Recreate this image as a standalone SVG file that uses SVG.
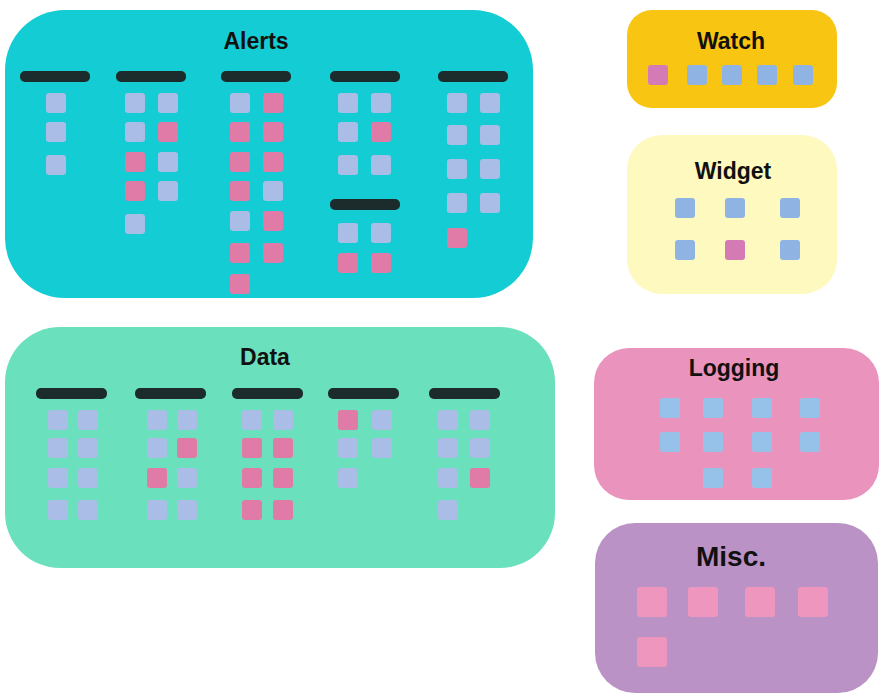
<svg xmlns="http://www.w3.org/2000/svg" width="885" height="700" viewBox="0 0 885 700">
<style>
.title{font-family:"Liberation Sans",Arial,sans-serif;font-weight:bold;font-size:23px;fill:#111;text-anchor:middle}
.bar{fill:#1c2b2b}
.b{fill:#a9bde6}
.p{fill:#e07aa6}
.wb{fill:#8fb4e4}
.wp{fill:#d47bb6}
.lb{fill:#96c2ea}
.mp{fill:#ee96bd}
</style>
<defs>
<rect id="n" x="-10" y="-10" width="20" height="20" rx="3"/>
<rect id="m" x="-15" y="-15" width="30" height="30" rx="3"/>
</defs>
<g id="alerts">
<rect x="5" y="10" width="528" height="288" rx="60" fill="#14ccd4"/>
<text class="title" x="256" y="49">Alerts</text>
<g class="bar">
<rect x="20" y="71" width="70" height="11" rx="5"/>
<rect x="116" y="71" width="70" height="11" rx="5"/>
<rect x="221" y="71" width="70" height="11" rx="5"/>
<rect x="330" y="71" width="70" height="11" rx="5"/>
<rect x="438" y="71" width="70" height="11" rx="5"/>
<rect x="330" y="199" width="70" height="11" rx="5"/>
</g>
<g class="b">
<use href="#n" x="56" y="103"/><use href="#n" x="56" y="132"/><use href="#n" x="56" y="165"/>
<use href="#n" x="135" y="103"/><use href="#n" x="135" y="132"/><use href="#n" x="135" y="224"/>
<use href="#n" x="168" y="103"/><use href="#n" x="168" y="162"/><use href="#n" x="168" y="191"/>
<use href="#n" x="240" y="103"/><use href="#n" x="240" y="221"/><use href="#n" x="273" y="191"/>
<use href="#n" x="348" y="103"/><use href="#n" x="348" y="132"/><use href="#n" x="348" y="165"/>
<use href="#n" x="381" y="103"/><use href="#n" x="381" y="165"/>
<use href="#n" x="348" y="233"/><use href="#n" x="381" y="233"/>
<use href="#n" x="457" y="103"/><use href="#n" x="457" y="135"/><use href="#n" x="457" y="169"/><use href="#n" x="457" y="203"/>
<use href="#n" x="490" y="103"/><use href="#n" x="490" y="135"/><use href="#n" x="490" y="169"/><use href="#n" x="490" y="203"/>
</g>
<g class="p">
<use href="#n" x="135" y="162"/><use href="#n" x="135" y="191"/><use href="#n" x="168" y="132"/>
<use href="#n" x="240" y="132"/><use href="#n" x="240" y="162"/><use href="#n" x="240" y="191"/><use href="#n" x="240" y="253"/><use href="#n" x="240" y="284"/>
<use href="#n" x="273" y="103"/><use href="#n" x="273" y="132"/><use href="#n" x="273" y="162"/><use href="#n" x="273" y="221"/><use href="#n" x="273" y="253"/>
<use href="#n" x="381" y="132"/>
<use href="#n" x="348" y="263"/><use href="#n" x="381" y="263"/>
<use href="#n" x="457" y="238"/>
</g>
</g>
<g id="watch">
<rect x="627" y="10" width="210" height="98" rx="25" fill="#f8c512"/>
<text class="title" x="731" y="49">Watch</text>
<use href="#n" x="658" y="75" class="wp"/>
<g class="wb">
<use href="#n" x="697" y="75"/><use href="#n" x="732" y="75"/><use href="#n" x="767" y="75"/><use href="#n" x="803" y="75"/>
</g>
</g>
<g id="widget">
<rect x="627" y="135" width="210" height="159" rx="35" fill="#fef9be"/>
<text class="title" x="733" y="179">Widget</text>
<g class="wb">
<use href="#n" x="685" y="208"/><use href="#n" x="735" y="208"/><use href="#n" x="790" y="208"/>
<use href="#n" x="685" y="250"/><use href="#n" x="790" y="250"/>
</g>
<use href="#n" x="735" y="250" class="wp"/>
</g>
<g id="data">
<rect x="5" y="327" width="550" height="241" rx="55" fill="#6be0bc"/>
<text class="title" x="265" y="365">Data</text>
<g class="bar">
<rect x="36" y="388" width="71" height="11" rx="5"/>
<rect x="135" y="388" width="71" height="11" rx="5"/>
<rect x="232" y="388" width="71" height="11" rx="5"/>
<rect x="328" y="388" width="71" height="11" rx="5"/>
<rect x="429" y="388" width="71" height="11" rx="5"/>
</g>
<g class="b">
<use href="#n" x="58" y="420"/><use href="#n" x="58" y="448"/><use href="#n" x="58" y="478"/><use href="#n" x="58" y="510"/>
<use href="#n" x="88" y="420"/><use href="#n" x="88" y="448"/><use href="#n" x="88" y="478"/><use href="#n" x="88" y="510"/>
<use href="#n" x="157" y="420"/><use href="#n" x="157" y="448"/><use href="#n" x="157" y="510"/>
<use href="#n" x="187" y="420"/><use href="#n" x="187" y="478"/><use href="#n" x="187" y="510"/>
<use href="#n" x="252" y="420"/><use href="#n" x="283" y="420"/>
<use href="#n" x="348" y="448"/><use href="#n" x="348" y="478"/>
<use href="#n" x="382" y="420"/><use href="#n" x="382" y="448"/>
<use href="#n" x="448" y="420"/><use href="#n" x="448" y="448"/><use href="#n" x="448" y="478"/><use href="#n" x="448" y="510"/>
<use href="#n" x="480" y="420"/><use href="#n" x="480" y="448"/>
</g>
<g class="p">
<use href="#n" x="157" y="478"/><use href="#n" x="187" y="448"/>
<use href="#n" x="252" y="448"/><use href="#n" x="252" y="478"/><use href="#n" x="252" y="510"/>
<use href="#n" x="283" y="448"/><use href="#n" x="283" y="478"/><use href="#n" x="283" y="510"/>
<use href="#n" x="348" y="420"/>
<use href="#n" x="480" y="478"/>
</g>
</g>
<g id="logging">
<rect x="594" y="348" width="285" height="152" rx="35" fill="#ea93bd"/>
<text class="title" x="734" y="376">Logging</text>
<g class="lb">
<use href="#n" x="670" y="408"/><use href="#n" x="713" y="408"/><use href="#n" x="762" y="408"/><use href="#n" x="810" y="408"/>
<use href="#n" x="670" y="442"/><use href="#n" x="713" y="442"/><use href="#n" x="762" y="442"/><use href="#n" x="810" y="442"/>
<use href="#n" x="713" y="478"/><use href="#n" x="762" y="478"/>
</g>
</g>
<g id="misc">
<rect x="595" y="523" width="283" height="170" rx="40" fill="#bb92c6"/>
<text class="title" x="731" y="566" style="font-size:28px">Misc.</text>
<g class="mp">
<use href="#m" x="652" y="602"/><use href="#m" x="703" y="602"/><use href="#m" x="760" y="602"/><use href="#m" x="813" y="602"/>
<use href="#m" x="652" y="652"/>
</g>
</g>
<g id="connectors"></g>
</svg>
